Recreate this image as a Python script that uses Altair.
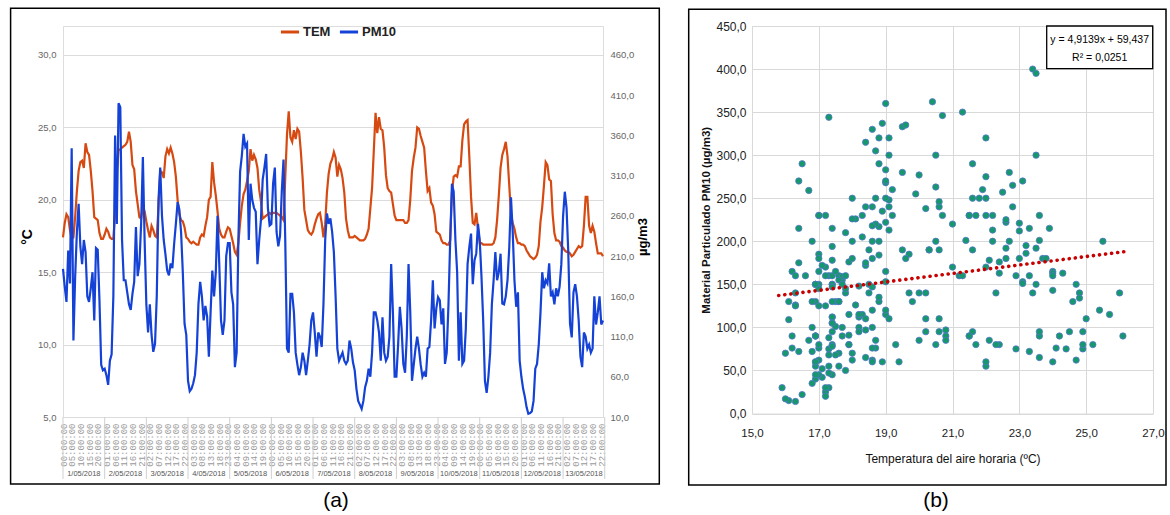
import altair as alt
import pandas as pd

# ---------------- data ----------------
DAYS = ["1/05/2018", "2/05/2018", "3/05/2018", "4/05/2018", "5/05/2018",
        "6/05/2018", "7/05/2018", "8/05/2018", "9/05/2018", "10/05/2018",
        "11/05/2018", "12/05/2018", "13/05/2018"]

# hourly air temperature (°C), one row per day
TEM = [
    17.4, 18.4, 19.0, 18.8, 17.9, 17.3, 17.4, 18.8, 20.6, 22.0, 22.6, 22.7, 22.2, 23.9, 23.3, 23.1, 22.0, 20.6, 18.8, 18.7, 18.6, 17.7, 17.3, 17.3,
    17.6, 18.0, 17.8, 17.4, 17.3, 17.3, 19.0, 22.0, 23.4, 23.5, 23.6, 23.7, 23.8, 24.0, 24.7, 24.0, 22.4, 22.1, 20.6, 19.7, 18.8, 18.7, 19.5, 19.2,
    18.5, 17.9, 17.4, 18.2, 17.9, 17.5, 17.4, 19.5, 22.0, 21.9, 21.5, 23.0, 23.5, 23.2, 23.6, 23.2, 22.6, 21.6, 20.0, 19.0, 18.6, 18.5, 18.1, 17.4,
    17.3, 17.1, 17.0, 17.1, 17.0, 16.9, 16.9, 17.4, 17.6, 17.5, 18.2, 18.8, 20.0, 20.2, 22.6, 21.2, 20.3, 19.2, 18.0, 17.6, 17.4, 17.4, 17.8, 18.1,
    18.0, 17.5, 17.0, 16.4, 16.2, 17.0, 18.4, 19.6, 20.4, 20.7, 21.3, 22.0, 23.5, 22.7, 23.1, 22.8, 22.2, 20.7, 19.9, 18.7, 18.8, 18.9, 19.0, 19.1,
    19.0, 19.1, 19.1, 19.1, 19.0, 18.9, 18.8, 18.6, 21.5, 24.5, 26.1, 24.3, 24.0, 24.8, 24.2, 24.9, 24.7, 23.3, 21.5, 19.3, 18.6, 17.9, 17.7, 17.6,
    17.8, 18.3, 18.7, 19.0, 19.1, 18.4, 17.4, 18.3, 20.5, 21.8, 22.5, 22.8, 23.3, 22.9, 21.6, 22.4, 22.1, 21.5, 20.5, 18.7, 17.9, 17.4, 17.4, 17.4,
    17.5, 17.4, 17.3, 17.2, 17.2, 17.2, 17.3, 17.6, 18.0, 19.4, 20.8, 23.4, 26.0, 24.6, 25.7, 24.9, 24.8, 23.6, 21.7, 20.8, 20.6, 20.5, 19.7, 18.9,
    18.6, 18.6, 18.6, 18.6, 18.6, 18.4, 18.4, 18.6, 20.0, 22.0, 22.9, 23.6, 25.0, 24.9, 24.4, 24.0, 23.6, 22.0, 20.6, 20.8, 19.8, 19.6, 19.0, 17.8,
    17.7, 17.6, 17.2, 17.0, 17.0, 16.9, 16.9, 17.2, 20.5, 21.6, 21.7, 21.6, 22.3, 22.3, 24.1, 25.2, 25.4, 25.5, 23.0, 20.2, 18.4, 18.3, 19.1, 18.0,
    17.0, 17.0, 16.9, 16.9, 16.9, 16.9, 16.9, 16.9, 17.0, 17.4, 18.6, 20.3, 22.2, 23.1, 23.5, 24.0, 23.0, 21.0, 19.0, 18.4, 18.0, 17.4, 17.0, 17.0,
    16.9, 16.9, 16.8, 16.5, 16.3, 16.1, 16.0, 15.9, 16.0, 16.2, 16.8, 18.5, 19.5, 21.0, 22.6, 22.4, 21.4, 21.3, 19.0, 17.7, 17.2, 17.2, 17.1, 16.8,
    16.7, 16.5, 16.4, 16.4, 16.3, 16.1, 16.2, 16.4, 16.6, 16.8, 16.7, 16.8, 18.2, 20.2, 20.2, 18.2, 17.7, 18.2, 17.8, 17.0, 16.3, 16.3, 16.3, 16.1,
]

# hourly PM10 (µg/m3), one row per day
PM10 = [
    194, 172, 153, 217, 176, 344, 105, 184, 240, 275, 222, 200, 230, 215, 160, 153, 170, 190, 130, 220, 218, 155, 75, 68,
    70, 62, 50, 80, 88, 160, 360, 250, 400, 395, 230, 180, 180, 165, 150, 143, 163, 178, 246, 185, 200, 250, 333, 230,
    150, 115, 150, 112, 91, 101, 160, 280, 320, 260, 230, 212, 192, 186, 201, 195, 225, 250, 277, 268, 240, 190, 126, 112,
    55, 42, 45, 52, 62, 90, 150, 178, 160, 130, 148, 135, 85, 140, 192, 160, 190, 260, 200, 130, 112, 130, 210, 226,
    226, 165, 150, 72, 90, 230, 315, 335, 362, 346, 350, 230, 300, 280, 270, 265, 200, 230, 255, 305, 320, 337, 270, 248,
    250, 300, 320, 240, 222, 235, 290, 330, 230, 95, 90, 163, 163, 140, 90, 75, 62, 72, 90, 80, 62, 80, 100, 130,
    140, 115, 85, 115, 110, 97, 150, 230, 263, 250, 257, 240, 215, 160, 95, 80, 85, 90, 80, 76, 80, 105, 95, 78,
    68, 45, 30, 25, 20, 30, 47, 55, 70, 60, 90, 140, 140, 130, 115, 80, 134, 90, 80, 85, 110, 200, 140, 60,
    60, 100, 147, 120, 76, 65, 110, 200, 140, 55, 75, 95, 110, 95, 75, 60, 65, 60, 95, 97, 130, 180, 120, 145,
    159, 155, 125, 145, 76, 90, 150, 230, 300, 290, 230, 190, 80, 140, 76, 80, 120, 200, 221, 238, 175, 205, 213, 250,
    230, 185, 130, 55, 40, 60, 90, 150, 180, 215, 180, 190, 213, 151, 150, 160, 180, 220, 283, 240, 180, 147, 165, 80,
    60, 45, 35, 22, 14, 15, 17, 30, 70, 76, 100, 140, 190, 170, 180, 176, 201, 160, 165, 150, 170, 160, 172, 200,
    259, 290, 270, 215, 126, 109, 165, 175, 160, 130, 85, 72, 115, 110, 95, 100, 90, 95, 160, 125, 140, 160, 125, 130,
]

SERIES = ["TEM", "PM10"]
LEFT_TICKS = [5, 10, 15, 20, 25, 30]
RIGHT_TICKS = [10, 60, 110, 160, 210, 260, 310, 360, 410, 460]
HOUR_TICKS = list(range(0, 311, 5))
B_X_TICKS = [15, 17, 19, 21, 23, 25, 27]
B_Y_TICKS = [0, 50, 100, 150, 200, 250, 300, 350, 400, 450]
TREND_SLOPE = 4.9139
TREND_INTERCEPT = 59.437
TREND_R2 = 0.0251
TREND_X = [15.8, 26.2]

# ---------------- styling ----------------
ORANGE = "#D64A12"
BLUE = "#1542D6"
GREEN = "#14986C"
FONT = "Liberation Sans"
COMMA = "replace(format(datum.value, '.1f'), '.', ',')"

WA, HA = 540, 391     # panel (a) plot area
WB, HB = 401, 387.5   # panel (b) plot area
TEM_DOMAIN = [5, 32.0]
PM_DOMAIN = [10, 496.0]

hours = list(range(len(TEM)))
long_df = pd.concat([
    pd.DataFrame({"hour": hours, "value": TEM, "series": "TEM"}),
    pd.DataFrame({"hour": hours, "value": PM10, "series": "PM10"}),
])
sep_df = pd.DataFrame({"hour": [24 * d for d in range(len(DAYS) + 1)]})
day_df = pd.DataFrame({"hour": [24 * d + 12 for d in range(len(DAYS))], "day": DAYS})
one = pd.DataFrame({"k": [0]})

# ---- panel (a) shared encodings ----
xscale_a = alt.Scale(domain=[0, len(TEM) - 1], nice=False, zero=False)
axis_xa = alt.Axis(
    values=HOUR_TICKS,
    labelExpr="(datum.value % 24 < 10 ? '0' : '') + (datum.value % 24) + ':00:00'",
    labelAngle=270, labelFont="Liberation Mono", labelFontSize=9,
    labelColor="#9a9a9a", labelPadding=6, labelOverlap=False, labelFlush=False,
    labelBound=False, ticks=False, domain=False, grid=False, title=None)
X_A = alt.X("hour:Q", scale=xscale_a, axis=axis_xa, title=None)

color = alt.Color(
    "series:N",
    scale=alt.Scale(domain=SERIES, range=[ORANGE, BLUE]),
    legend=alt.Legend(
        orient="none", legendX=216, legendY=-5, direction="horizontal",
        title=None, symbolType="stroke", symbolStrokeWidth=3, symbolSize=330,
        labelFontSize=13, labelFontWeight="bold", labelColor="#222",
        labelFont=FONT, labelOffset=2, columnPadding=2,
    ),
)

frame_a = alt.Chart(one).mark_rect(fillOpacity=0, stroke="black", strokeWidth=1.5).encode(
    x=alt.value(-52.4), x2=alt.value(596.3), y=alt.value(-17.7), y2=alt.value(458)
)

tem_line = alt.Chart(long_df).transform_filter("datum.series == 'TEM'").mark_line(
    strokeWidth=2.2
).encode(
    x=X_A,
    y=alt.Y("value:Q", scale=alt.Scale(domain=TEM_DOMAIN, nice=False, zero=False), axis=alt.Axis(
        values=LEFT_TICKS, labelExpr=COMMA, labelFontSize=9.5, labelColor="#666",
        labelPadding=7, ticks=False, domain=False, grid=True, gridColor="#dcdcdc",
        gridWidth=1.2, title="°C", titleFontSize=14, titleFontWeight="bold",
        titleColor="black", titleAngle=270, titleX=-36, titleY=210.5,
        titleAlign="center", titleBaseline="middle")),
    color=color,
)

pm_line = alt.Chart(long_df).transform_filter("datum.series == 'PM10'").mark_line(
    strokeWidth=2.2
).encode(
    x=X_A,
    y=alt.Y("value:Q", scale=alt.Scale(domain=PM_DOMAIN, nice=False, zero=False), axis=alt.Axis(
        orient="right", values=RIGHT_TICKS, labelExpr=COMMA, labelFontSize=9.5,
        labelColor="#666", labelPadding=7, ticks=False, domain=False, grid=False,
        title="µg/m3", titleFontSize=13, titleFontWeight="bold", titleColor="black",
        titleAngle=270, titleX=39, titleY=210.5, titleAlign="center",
        titleBaseline="middle")),
    color=color,
)

seps = alt.Chart(sep_df).mark_rule(color="#cfcfcf", strokeWidth=1).encode(
    x=X_A, y=alt.value(HA), y2=alt.value(453)
)
day_text = alt.Chart(day_df).mark_text(fontSize=7.5, color="#555", font=FONT).encode(
    x=X_A, y=alt.value(447.5), text="day:N"
)
cap_a = alt.Chart(one).mark_text(fontSize=21, font=FONT, color="black").encode(
    x=alt.value(273), y=alt.value(475), text=alt.value("(a)")
)

panel_a = alt.layer(frame_a, tem_line, pm_line, seps, day_text, cap_a).resolve_scale(
    y="independent"
).properties(width=WA, height=HA)

# ---------------- panel (b) ----------------
sc_df = pd.DataFrame({"TEM": TEM, "PM10": PM10})
trend_df = pd.DataFrame({"TEM": TREND_X})
xscale_b = alt.Scale(domain=[15, 27], nice=False, zero=False)
yscale_b = alt.Scale(domain=[0, 450], nice=False, zero=False)
axis_xb = alt.Axis(
    values=B_X_TICKS, labelExpr=COMMA, labelFontSize=11.5, labelColor="#222",
    labelPadding=14, ticks=False, domain=False, grid=True, gridColor="#d9d9d9",
    labelFlush=False, title="Temperatura del aire horaria (ºC)", titleFontSize=12,
    titleFontWeight="normal", titleColor="#111", titleX=WB / 2, titleY=44.5,
    titleBaseline="middle")
axis_yb = alt.Axis(
    values=B_Y_TICKS, labelExpr=COMMA, labelFontSize=12, labelColor="#222",
    labelPadding=6, ticks=False, domain=False, grid=True, gridColor="#d9d9d9",
    title="Material Particulado PM10 (µg/m3)", titleFontSize=11.5,
    titleFontWeight="bold", titleColor="#111", titleAngle=270, titleX=-46,
    titleY=HB / 2, titleAlign="center", titleBaseline="middle")
X_B = alt.X("TEM:Q", scale=xscale_b, axis=axis_xb, title="Temperatura del aire horaria (ºC)")
Y_B = alt.Y("PM10:Q", scale=yscale_b, axis=axis_yb, title="Material Particulado PM10 (µg/m3)")

frame_b = alt.Chart(one).mark_rect(fillOpacity=0, stroke="black", strokeWidth=1.5).encode(
    x=alt.value(-63.3), x2=alt.value(414), y=alt.value(-16.7), y2=alt.value(459)
)

points = alt.Chart(sc_df).mark_circle(
    size=40, opacity=1, color=GREEN, stroke="#5576cc", strokeWidth=0.8
).encode(x=X_B, y=Y_B)

trend = alt.Chart(trend_df).transform_calculate(
    PM10=f"{TREND_SLOPE} * datum.TEM + {TREND_INTERCEPT}"
).mark_line(color="#C80000", strokeWidth=3.6, strokeDash=[0.1, 6.0], strokeCap="round").encode(
    x=X_B, y=Y_B,
)

eq1 = "y = " + f"{TREND_SLOPE:.4f}".replace(".", ",") + "x + " + f"{TREND_INTERCEPT:.3f}".replace(".", ",")
eq2 = "R² = " + f"{TREND_R2:.4f}".replace(".", ",")
eq_box = alt.Chart(one).mark_rect(fill="white", stroke="black", strokeWidth=1.3).encode(
    x=alt.value(294.7), x2=alt.value(400.7), y=alt.value(0), y2=alt.value(42.7)
)
eq_t1 = alt.Chart(one).mark_text(fontSize=10.5, font=FONT, color="black").encode(
    x=alt.value(347.7), y=alt.value(14), text=alt.value(eq1)
)
eq_t2 = alt.Chart(one).mark_text(fontSize=10.5, font=FONT, color="black").encode(
    x=alt.value(347.7), y=alt.value(31.5), text=alt.value(eq2)
)
cap_b = alt.Chart(one).mark_text(fontSize=21, font=FONT, color="black").encode(
    x=alt.value(184), y=alt.value(475), text=alt.value("(b)")
)

panel_b = alt.layer(frame_b, points, trend, eq_box, eq_t1, eq_t2, cap_b).properties(
    width=WB, height=HB
)

chart = alt.hconcat(panel_a, panel_b, spacing=149, bounds="flush").properties(
    padding={"left": 9, "top": 7, "right": 2, "bottom": 0},
    background="white",
).configure_view(stroke=None).configure(font=FONT)

chart.save("out.html", embed_options={"renderer": "svg", "actions": False})
